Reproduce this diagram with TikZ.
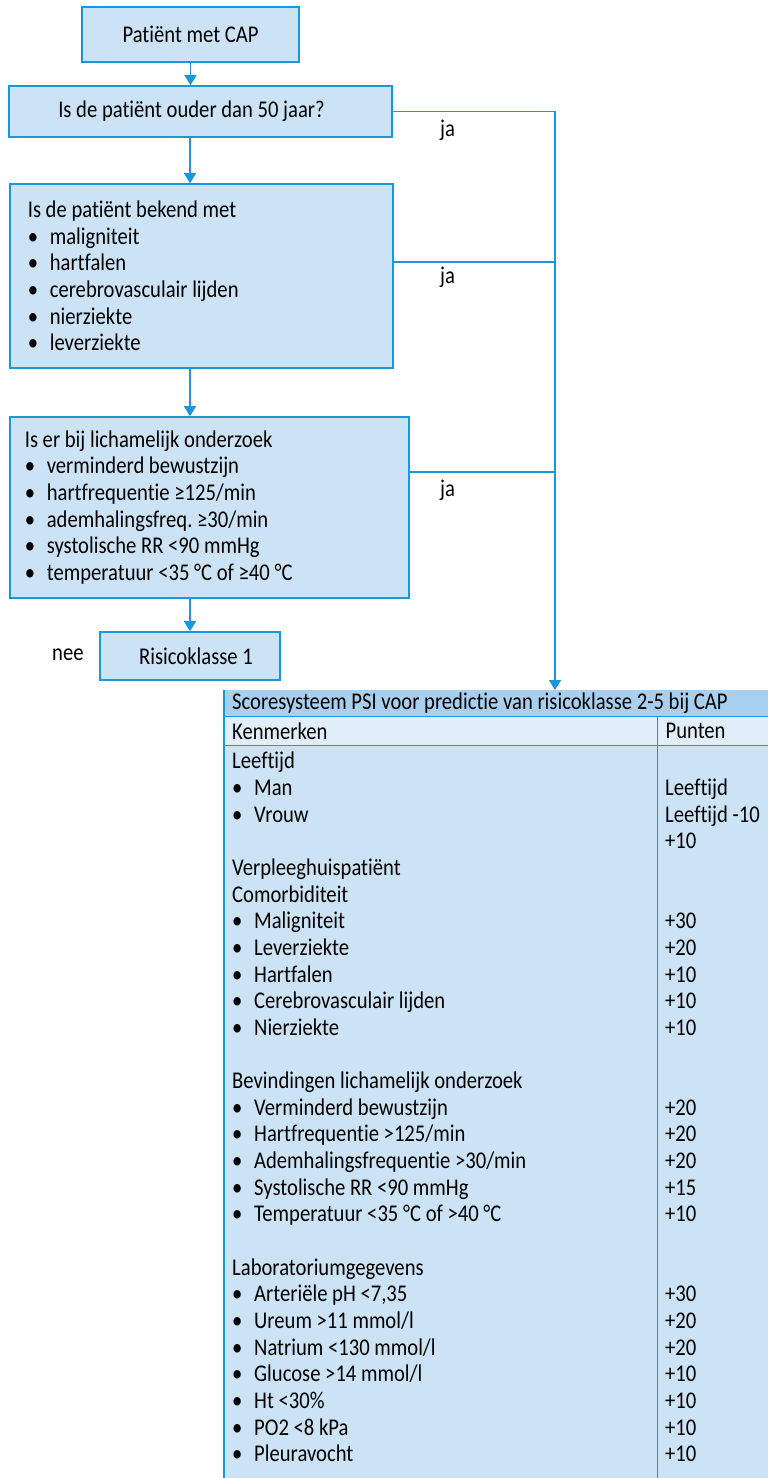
\documentclass[tikz,border=0pt]{standalone}
\usepackage{fontspec}
\setmainfont{Carlito}[FakeStretch=0.86, RawFeature={-liga;-calt;-clig}]
\usetikzlibrary{arrows.meta, calc, positioning}
\definecolor{capblauw}{RGB}{26,150,218}
\definecolor{capvul}{RGB}{204,227,245}
\definecolor{captitel}{RGB}{168,208,238}
\definecolor{capkop}{RGB}{225,238,249}
\newcommand{\opsom}{\makebox[22pt][l]{•}}

\begin{document}
\begin{tikzpicture}[x=1pt, y=-1pt,
  vak/.style={draw=capblauw, fill=capvul, line width=1.6pt, inner sep=0pt, font=\fontsize{24}{26.65}\selectfont\frenchspacing},
  lijst/.style={vak, align=flush left},
  tekst/.style={inner sep=0pt, font=\fontsize{24}{26.65}\selectfont\frenchspacing},
  lijn/.style={capblauw, line width=1.6pt},
  pijl/.style={lijn, -{Triangle[width=12pt,length=10pt]}},
  rand/.style={capblauw, line width=1.3pt}]
\useasboundingbox (0,0) rectangle (768,1478);

% stroomschema
\node[vak, minimum width=217pt, minimum height=55pt] (start) at (190.5,34.5) {Patiënt met CAP};
\node[vak, minimum width=383pt, minimum height=51pt] (leeftijd) at (200.5,111.5) {Is de patiënt ouder dan 50 jaar?\hspace*{18pt}};
\node[lijst, minimum width=383pt, minimum height=184pt, text width=347pt] (bekend) at (201.3,276) {Is de patiënt bekend met\\
\opsom maligniteit\\
\opsom hartfalen\\
\opsom cerebrovasculair lijden\\
\opsom nierziekte\\
\opsom leverziekte};
\node[lijst, minimum width=399pt, minimum height=181pt, text width=369pt] (onderzoek) at (209.3,507.5) {Is er bij lichamelijk onderzoek\\
\opsom verminderd bewustzijn\\
\opsom hartfrequentie ≥125/min\\
\opsom ademhalingsfreq. ≥30/min\\
\opsom systolische RR <90 mmHg\\
\opsom temperatuur <35 °C of ≥40 °C};
\node[vak, minimum width=180pt, minimum height=48pt] (klasse1) at (190,656) {\hspace*{12pt}Risicoklasse 1};
\node[tekst, anchor=west] (nee) at (52,655) {nee};

% pijlen omlaag
\coordinate (as) at (190,0);
\coordinate (rail) at (555,0);
\draw[pijl] (start.south) -- (start.south |- leeftijd.north);
\draw[pijl] (as |- leeftijd.south) -- (as |- bekend.north);
\draw[pijl] (as |- bekend.south) -- (as |- onderzoek.north);
\draw[pijl] (onderzoek.south -| klasse1.north) -- (klasse1.north);

% tabel PSI
\fill[capvul] (224,745) rectangle (768,1478);
\node[anchor=north west, fill=captitel, inner xsep=8pt, inner ysep=0pt, text width=528pt, minimum height=26pt, align=flush left, font=\fontsize{24}{26.65}\selectfont] (psi) at (224,690) {Scoresysteem PSI voor predictie van risicoklasse 2-5 bij CAP};
\node[anchor=north west, fill=capkop, inner xsep=8pt, inner ysep=0pt, text width=417pt, minimum height=29pt, align=flush left, font=\fontsize{24}{26.65}\selectfont] (kenmerkkop) at (psi.south west) {Kenmerken};
\node[anchor=north west, fill=capkop, inner xsep=8pt, inner ysep=0pt, text width=95pt, minimum height=29pt, align=flush left, font=\fontsize{24}{26.65}\selectfont] (puntkop) at (kenmerkkop.north east) {Punten};
\draw[rand] (psi.north west) -- (224,1478);
\draw[rand] (kenmerkkop.north west) -- (puntkop.north east);
\draw[rand] (kenmerkkop.south west) -- (puntkop.south east);
\draw[rand] (puntkop.north west) -- (puntkop.north west |- 0,1478);

\node[tekst, anchor=north west, align=left] (kenmerken) at (232,750) {\strut Leeftijd\\
\opsom Man\\
\opsom Vrouw\\
\mbox{}\\
Verpleeghuispatiënt\\
Comorbiditeit\\
\opsom Maligniteit\\
\opsom Leverziekte\\
\opsom Hartfalen\\
\opsom Cerebrovasculair lijden\\
\opsom Nierziekte\\
\mbox{}\\
Bevindingen lichamelijk onderzoek\\
\opsom Verminderd bewustzijn\\
\opsom Hartfrequentie >125/min\\
\opsom Ademhalingsfrequentie >30/min\\
\opsom Systolische RR <90 mmHg\\
\opsom Temperatuur <35 °C of >40 °C\\
\mbox{}\\
Laboratoriumgegevens\\
\opsom Arteriële pH <7,35\\
\opsom Ureum >11 mmol/l\\
\opsom Natrium <130 mmol/l\\
\opsom Glucose >14 mmol/l\\
\opsom Ht <30\%\\
\opsom PO2 <8 kPa\\
\opsom Pleuravocht};
\node[tekst, anchor=north west, align=left] (punten) at (665,750) {\strut\\
Leeftijd\\
Leeftijd -10\\
+10\\
\mbox{}\\
\mbox{}\\
+30\\
+20\\
+10\\
+10\\
+10\\
\mbox{}\\
\mbox{}\\
+20\\
+20\\
+20\\
+15\\
+10\\
\mbox{}\\
\mbox{}\\
+30\\
+20\\
+20\\
+10\\
+10\\
+10\\
+10};

% ja-takken naar de tabel
\coordinate (tak1) at ($(bekend.north east)!0.424!(bekend.south east)$);
\coordinate (tak2) at ($(onderzoek.north east)!0.304!(onderzoek.south east)$);
\draw[pijl] (leeftijd.east) -| (rail |- psi.north);
\draw[lijn] (tak1) -- (tak1 -| rail);
\draw[lijn] (tak2) -- (tak2 -| rail);
\node[tekst, anchor=west] (ja1) at (440,130) {ja};
\node[tekst, anchor=west] (ja2) at (440,277) {ja};
\node[tekst, anchor=west] (ja3) at (440,490) {ja};
\end{tikzpicture}
\end{document}
